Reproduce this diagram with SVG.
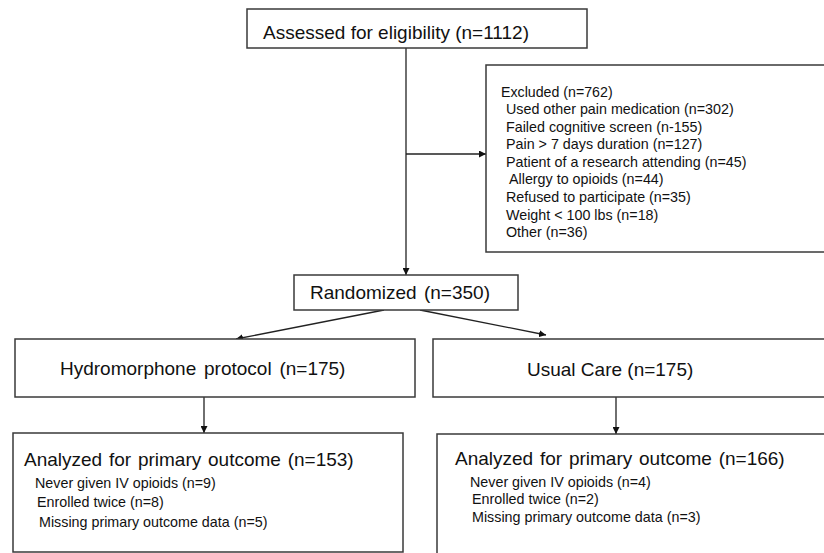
<svg xmlns="http://www.w3.org/2000/svg" width="824" height="553" viewBox="0 0 824 553">
<style>
.box{fill:#fff;stroke:#3a3a3a;stroke-width:1.5}
.t{font-family:"Liberation Sans",Arial,sans-serif;fill:#111}
.big{font-size:19px}
.sub{font-size:14.3px}
.ln{stroke:#222;stroke-width:1.3;fill:none}
</style>
<defs>
<marker id="ah" viewBox="0 0 10 10" refX="10" refY="5" markerWidth="7" markerHeight="7" markerUnits="userSpaceOnUse" orient="auto">
<path d="M0,0 L10,5 L0,10 z" fill="#111"/>
</marker>
</defs>
<rect width="824" height="553" fill="#fff"/>
<g id="connectors">
<line class="ln" x1="406" y1="48" x2="406" y2="275" marker-end="url(#ah)"/>
<line class="ln" x1="406" y1="154" x2="486" y2="154" marker-end="url(#ah)"/>
<line class="ln" x1="384" y1="310" x2="236" y2="339" marker-end="url(#ah)"/>
<line class="ln" x1="420" y1="310" x2="546" y2="335" marker-end="url(#ah)"/>
<line class="ln" x1="204" y1="397" x2="204" y2="433" marker-end="url(#ah)"/>
<line class="ln" x1="616" y1="397" x2="616" y2="434" marker-end="url(#ah)"/>
</g>
<g id="assessed">
<rect class="box" x="247" y="9" width="340" height="39"/>
<text class="t big" x="263" y="39">Assessed for eligibility (n=1112)</text>
</g>
<g id="excluded">
<rect class="box" x="486" y="65" width="345" height="187"/>
<text class="t" x="501" y="97" font-size="14.2">Excluded (n=762)</text>
<text class="t sub" x="506" y="114">Used other pain medication (n=302)</text>
<text class="t sub" x="506" y="132">Failed cognitive screen (n-155)</text>
<text class="t sub" x="506" y="149">Pain &gt; 7 days duration (n=127)</text>
<text class="t sub" x="506" y="167">Patient of a research attending (n=45)</text>
<text class="t sub" x="509" y="184">Allergy to opioids (n=44)</text>
<text class="t sub" x="506" y="202">Refused to participate (n=35)</text>
<text class="t sub" x="506" y="220">Weight &lt; 100 lbs (n=18)</text>
<text class="t sub" x="506" y="237">Other (n=36)</text>
</g>
<g id="randomized">
<rect class="box" x="294" y="275" width="224" height="35"/>
<text class="t big" x="310" y="299" word-spacing="2">Randomized (n=350)</text>
</g>
<g id="hydromorphone">
<rect class="box" x="15" y="339" width="400" height="58"/>
<text class="t big" x="60" y="375" word-spacing="2.5">Hydromorphone protocol (n=175)</text>
</g>
<g id="usual">
<rect class="box" x="433" y="339" width="400" height="58"/>
<text class="t big" x="527" y="376">Usual Care (n=175)</text>
</g>
<g id="analyzed-left">
<rect class="box" x="13" y="433" width="390" height="119"/>
<text class="t big" x="24" y="466" word-spacing="1.5">Analyzed for primary outcome (n=153)</text>
<text class="t sub" x="35" y="488">Never given IV opioids (n=9)</text>
<text class="t sub" x="37" y="507">Enrolled twice (n=8)</text>
<text class="t sub" x="39" y="527">Missing primary outcome data (n=5)</text>
</g>
<g id="analyzed-right">
<rect class="box" x="437" y="434" width="400" height="130"/>
<text class="t big" x="455" y="465" word-spacing="1.5">Analyzed for primary outcome (n=166)</text>
<text class="t sub" x="470" y="487">Never given IV opioids (n=4)</text>
<text class="t sub" x="472" y="504">Enrolled twice (n=2)</text>
<text class="t sub" x="472" y="522">Missing primary outcome data (n=3)</text>
</g>
</svg>
